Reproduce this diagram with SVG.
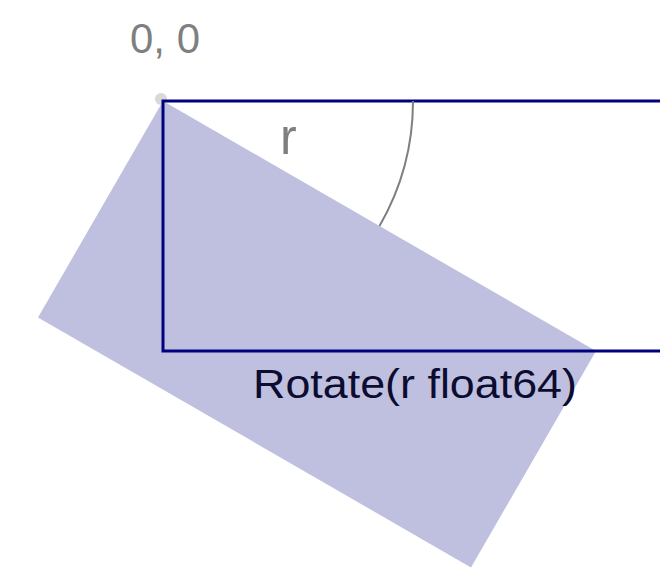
<svg xmlns="http://www.w3.org/2000/svg" width="660" height="568" viewBox="0 0 660 568">
<style>
.gray{fill:#7f7f7f;font-family:"Liberation Sans",Arial,sans-serif}
.dark{fill:#0c0c30;font-family:"Liberation Sans",Arial,sans-serif}
</style>
<rect width="660" height="568" fill="#ffffff"/>
<g id="rotated">
<polygon points="163,101 596,351 471,567.5 38,317.5" fill="#bfc0df"/>
</g>
<g id="origin">
<circle cx="161" cy="99" r="6" fill="#d9d9d9"/>
<text class="gray" x="130" y="53" font-size="42" textLength="70" lengthAdjust="spacingAndGlyphs">0, 0</text>
</g>
<g id="original">
<rect x="163" y="101" width="500" height="250" fill="none" stroke="#000080" stroke-width="3"/>
</g>
<g id="connectors">
<path d="M413,101 A250,250 0 0 1 379.5,226" fill="none" stroke="#7f7f7f" stroke-width="2"/>
</g>
<g id="angle">
<text class="gray" x="280" y="154" font-size="50">r</text>
</g>
<g id="label">
<text class="dark" x="253" y="398" font-size="40" textLength="324" lengthAdjust="spacingAndGlyphs">Rotate(r float64)</text>
</g>
</svg>
